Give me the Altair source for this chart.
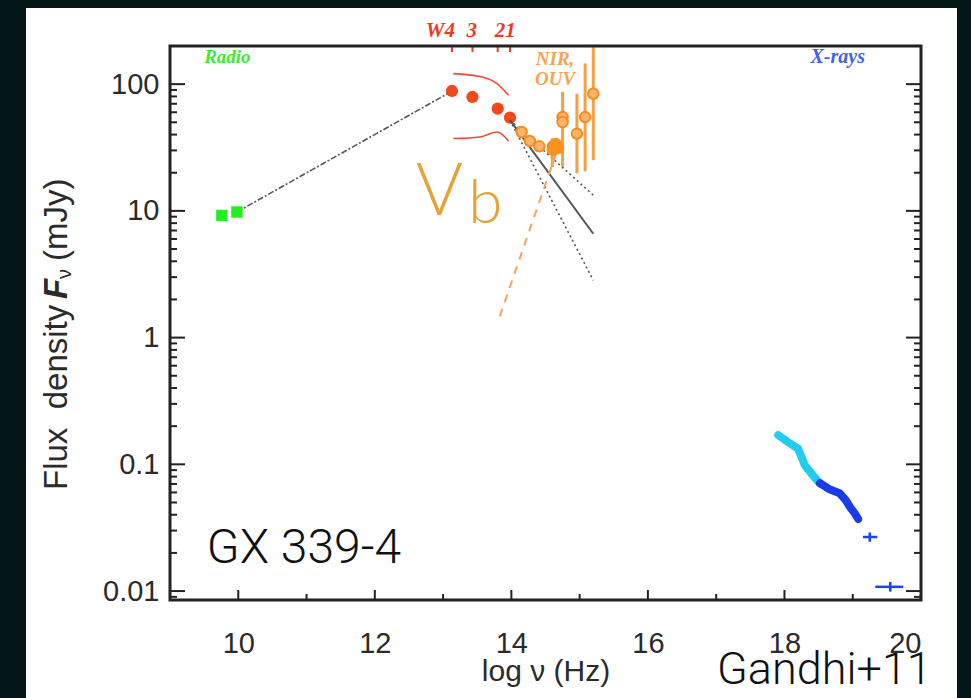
import altair as alt
import pandas as pd

# ---------------- data ----------------
radio_x = [9.76, 9.98]
radio_y = [9.2, 9.8]

link_x = [9.98, 13.13]
link_y = [9.8, 88.0]

wise_x = [13.13, 13.43, 13.80, 13.98]
wise_y = [88.3, 79.2, 64.1, 54.5]

env_x = [13.15, 13.54, 13.79, 13.96]
env_up_y = [121, 115, 101, 81.6]
env_lo_y = [37.2, 38.3, 41.9, 35.6]

oir_x = [14.15, 14.27, 14.41, 14.61, 14.75, 14.75, 14.96, 15.08, 15.20]
oir_y = [41.9, 35.6, 32.3, 32.3, 55.0, 50.3, 40.7, 55.0, 84.0]
oir_big_x = [14.61, 14.65, 14.68]
oir_big_y = [30.5, 33.5, 31.5]

err_x = [14.60, 14.75, 14.96, 15.08, 15.20]
err_lo = [22.2, 22.2, 19.8, 20.5, 25.1]
err_hi = [37.4, 86.7, 84.0, 146.0, 200.0]

dash_x = [13.83, 14.67]
dash_y = [1.47, 30.0]

pl_series = ["solid", "solid", "up", "up", "down", "down"]
pl_x = [13.98, 15.20, 13.98, 15.20, 13.98, 15.20]
pl_y = [52.0, 6.6, 52.0, 13.3, 52.0, 2.83]

cyan_x = [17.91, 18.05, 18.20, 18.30, 18.45, 18.52]
cyan_y = [0.170, 0.150, 0.133, 0.098, 0.078, 0.071]
blue_x = [18.52, 18.65, 18.81, 18.90, 18.96, 19.03, 19.08]
blue_y = [0.071, 0.064, 0.059, 0.052, 0.046, 0.041, 0.037]

hx_x = [19.25, 19.55]
hx_y = [0.0267, 0.0108]
hx_xlo = [19.15, 19.33]
hx_xhi = [19.36, 19.74]
hx_ylo = [0.0245, 0.0099]
hx_yhi = [0.0290, 0.0118]

y_major = [0.01, 0.1, 1, 10, 100]
y_minor = [k * 10.0 ** e for e in range(-3, 3) for k in range(2, 10)
           if 0.0085 <= k * 10.0 ** e <= 200]
x_major = [10, 12, 14, 16, 18, 20]
x_minor = [11, 13, 15, 17, 19]

band_text = ["W4", "3", "21"]
band_text_x = [12.96, 13.42, 13.91]

W, H = 751, 554
FONT = "Liberation Sans"
INK = "#2b2b2b"

# ---------------- scales / axes ----------------
xs = alt.Scale(domain=[9, 20], nice=False, zero=False)
ys = alt.Scale(type="log", domain=[0.0085, 200], nice=False)

x_axis = alt.Axis(values=x_major, format="d", ticks=False, domain=False, grid=False,
                  labelFont=FONT, labelFontSize=29, labelColor=INK, labelPadding=29,
                  title="log \u03bd (Hz)", titleFont=FONT, titleFontSize=30,
                  titleFontWeight="normal", titleColor=INK, titleY=71,
                  titleBaseline="middle", zindex=1)
y_axis = alt.Axis(values=y_major, format="~g", ticks=False, domain=False, grid=False,
                  labelFont=FONT, labelFontSize=29, labelColor=INK, labelPadding=11,
                  title=None, zindex=1)


def X(f):
    return alt.X(f, type="quantitative", scale=xs, axis=x_axis)


def Y(f):
    return alt.Y(f, type="quantitative", scale=ys, axis=y_axis)


one = pd.DataFrame({"a": [0]})

panel = alt.Chart(one).mark_rect(fill="#ffffff").encode(
    x=alt.value(-144), x2=alt.value(787), y=alt.value(-38), y2=alt.value(660))

frame = alt.Chart(one).mark_rect(fillOpacity=0, stroke="#222222", strokeWidth=3).encode(
    x=alt.value(0), x2=alt.value(W), y=alt.value(0), y2=alt.value(H))

dfym = pd.DataFrame({"v": y_major})
dfyn = pd.DataFrame({"v": y_minor})
dfxm = pd.DataFrame({"v": x_major})
dfxn = pd.DataFrame({"v": x_minor})
tk = dict(color="#222222", strokeWidth=2)
ticks = [
    alt.Chart(dfym).mark_rule(**tk).encode(y=Y("v"), x=alt.value(0), x2=alt.value(15)),
    alt.Chart(dfym).mark_rule(**tk).encode(y=Y("v"), x=alt.value(W - 15), x2=alt.value(W)),
    alt.Chart(dfyn).mark_rule(**tk).encode(y=Y("v"), x=alt.value(0), x2=alt.value(7)),
    alt.Chart(dfyn).mark_rule(**tk).encode(y=Y("v"), x=alt.value(W - 7), x2=alt.value(W)),
    alt.Chart(dfxm).mark_rule(**tk).encode(x=X("v"), y=alt.value(H), y2=alt.value(H - 10)),
    alt.Chart(dfxn).mark_rule(**tk).encode(x=X("v"), y=alt.value(H), y2=alt.value(H - 6)),
]

# y-axis title built from pieces (plain / bold-italic F / subscript nu)
ytitle_parts = ["Flux\u00a0\u00a0density", "F", "\u03bd", "(mJy)"]
ytitle = [
    alt.Chart(one).mark_text(font=FONT, fontSize=33, color=INK, angle=270, align="left",
                             baseline="middle").encode(
        x=alt.value(-113), y=alt.value(490 - 46), text=alt.value(ytitle_parts[0])),
    alt.Chart(one).mark_text(font=FONT, fontSize=33, color=INK, angle=270, align="left",
                             baseline="middle", fontStyle="italic", fontWeight="bold").encode(
        x=alt.value(-113), y=alt.value(299 - 46), text=alt.value(ytitle_parts[1])),
    alt.Chart(one).mark_text(font=FONT, fontSize=20, color=INK, angle=270, align="left",
                             baseline="middle").encode(
        x=alt.value(-105), y=alt.value(279 - 46), text=alt.value(ytitle_parts[2])),
    alt.Chart(one).mark_text(font=FONT, fontSize=33, color=INK, angle=270, align="left",
                             baseline="middle").encode(
        x=alt.value(-113), y=alt.value(261 - 46), text=alt.value(ytitle_parts[3])),
]

link = alt.Chart(pd.DataFrame({"x": link_x, "y": link_y})).mark_line(
    color="#555555", strokeWidth=1.6, strokeDash=[6, 2, 2, 2]).encode(x=X("x"), y=Y("y"))

radio = alt.Chart(pd.DataFrame({"x": radio_x, "y": radio_y})).mark_square(
    color="#22ee22", size=130, opacity=1).encode(x=X("x"), y=Y("y"))

env_df = pd.DataFrame({"x": env_x * 2, "y": env_up_y + env_lo_y,
                       "s": ["up"] * 4 + ["lo"] * 4})
env = alt.Chart(env_df).mark_line(color="#ee4a30", strokeWidth=1.6, interpolate="monotone").encode(
    x=X("x"), y=Y("y"), detail="s:N")

wise = alt.Chart(pd.DataFrame({"x": wise_x, "y": wise_y})).mark_circle(
    color="#f2481e", size=150, opacity=1).encode(x=X("x"), y=Y("y"))

band_ticks = alt.Chart(pd.DataFrame({"x": wise_x})).mark_rule(
    color="#ee3a22", strokeWidth=2).encode(x=X("x"), y=alt.value(0), y2=alt.value(6))

band_lab = alt.Chart(pd.DataFrame({"x": band_text_x, "t": band_text})).mark_text(
    font="Liberation Serif", fontStyle="italic", fontWeight="bold", fontSize=21,
    color="#ee3a22", baseline="middle", align="center").encode(
    x=X("x"), y=alt.value(-15), text="t:N")

pl_df = pd.DataFrame({"x": pl_x, "y": pl_y, "s": pl_series})
pl_solid = alt.Chart(pl_df[pl_df.s == "solid"]).mark_line(
    color="#555555", strokeWidth=2).encode(x=X("x"), y=Y("y"))
pl_dot = alt.Chart(pl_df[pl_df.s != "solid"]).mark_line(
    color="#555555", strokeWidth=1.6, strokeDash=[2, 3]).encode(x=X("x"), y=Y("y"), detail="s:N")

dash = alt.Chart(pd.DataFrame({"x": dash_x, "y": dash_y})).mark_line(
    color="#f7a060", strokeWidth=2, strokeDash=[8, 7]).encode(x=X("x"), y=Y("y"))

err = alt.Chart(pd.DataFrame({"x": err_x, "lo": err_lo, "hi": err_hi})).mark_rule(
    color="#f8a040", strokeWidth=3).encode(x=X("x"), y=Y("lo"), y2="hi:Q")

oir = alt.Chart(pd.DataFrame({"x": oir_x, "y": oir_y})).mark_circle(
    fill="#fbb46c", stroke="#f68b1f", strokeWidth=2, size=110, opacity=1).encode(
    x=X("x"), y=Y("y"))
oir_big = alt.Chart(pd.DataFrame({"x": oir_big_x, "y": oir_big_y})).mark_circle(
    color="#f7931e", size=170, opacity=1).encode(x=X("x"), y=Y("y"))

cyan = alt.Chart(pd.DataFrame({"x": cyan_x, "y": cyan_y})).mark_line(
    color="#22ccee", strokeWidth=8, strokeCap="round").encode(x=X("x"), y=Y("y"))
blue = alt.Chart(pd.DataFrame({"x": blue_x, "y": blue_y})).mark_line(
    color="#1a3ce8", strokeWidth=8, strokeCap="round").encode(x=X("x"), y=Y("y"))

hx_df = pd.DataFrame({"x": hx_x, "y": hx_y, "xlo": hx_xlo, "xhi": hx_xhi,
                      "ylo": hx_ylo, "yhi": hx_yhi})
hx_h = alt.Chart(hx_df).mark_rule(color="#1a44ee", strokeWidth=2.5).encode(
    x=X("xlo"), x2="xhi:Q", y=Y("y"))
hx_v = alt.Chart(hx_df).mark_rule(color="#1a44ee", strokeWidth=2.5).encode(
    x=X("x"), y=Y("ylo"), y2="yhi:Q")

lab_style = dict(font="Liberation Serif", fontStyle="italic", fontWeight="bold",
                 baseline="middle", align="center")
radio_lab = alt.Chart(pd.DataFrame({"x": [9.84], "y": [165], "t": ["Radio"]})).mark_text(
    color="#33ee33", fontSize=19, **lab_style).encode(x=X("x"), y=Y("y"), text="t:N")
xray_lab = alt.Chart(pd.DataFrame({"x": [18.78], "y": [165], "t": ["X-rays"]})).mark_text(
    color="#3f62ee", fontSize=20, **lab_style).encode(x=X("x"), y=Y("y"), text="t:N")
nir_lab = alt.Chart(pd.DataFrame({"x": [14.64, 14.64], "y": [157, 109],
                                  "t": ["NIR,", "OUV"]})).mark_text(
    color="#f7a452", fontSize=19, **lab_style).encode(x=X("x"), y=Y("y"), text="t:N")

vb_V = alt.Chart(pd.DataFrame({"x": [12.60], "y": [9.2], "t": ["V"]})).mark_text(
    font="Lato", fontWeight=300, fontSize=72, color="#e5a236", align="left",
    baseline="alphabetic").encode(x=X("x"), y=Y("y"), text="t:N")
vb_b = alt.Chart(pd.DataFrame({"x": [13.37], "y": [7.98], "t": ["b"]})).mark_text(
    font="Lato", fontWeight=300, fontSize=62, color="#e5a236", align="left",
    baseline="alphabetic").encode(x=X("x"), y=Y("y"), text="t:N")

gx = alt.Chart(pd.DataFrame({"x": [9.54], "y": [0.0166], "t": ["GX 339-4"]})).mark_text(
    font="Roboto", fontWeight=300, fontSize=48, color="#111111", align="left",
    baseline="alphabetic").encode(x=X("x"), y=Y("y"), text="t:N")

gandhi = alt.Chart(pd.DataFrame({"t": ["Gandhi+11"]})).mark_text(
    font="Roboto", fontWeight=300, fontSize=45, color="#111111", align="left",
    baseline="alphabetic").encode(x=alt.value(547), y=alt.value(638), text="t:N")

chart = alt.layer(
    panel, link, radio, env, wise, band_ticks, band_lab, pl_solid, pl_dot, dash, err,
    oir, oir_big, cyan, blue, hx_h, hx_v, radio_lab, xray_lab, nir_lab, vb_V, vb_b, gx,
    gandhi, frame, *ticks, *ytitle
).properties(
    width=W, height=H,
    autosize=alt.AutoSizeParams(type="none"),
    padding={"left": 170, "top": 46, "right": 50, "bottom": 98},
    background="#031719",
).configure_view(stroke=None)

chart.save("out.html", embed_options={"renderer": "svg", "actions": False})
